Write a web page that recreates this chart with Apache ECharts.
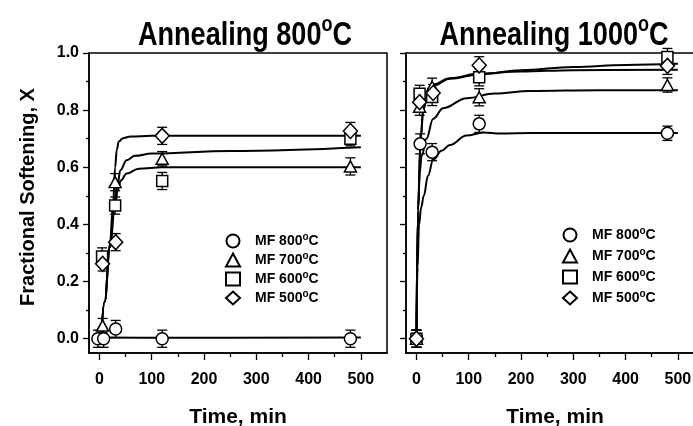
<!DOCTYPE html>
<html>
<head>
<meta charset="utf-8">
<script src="https://cdn.jsdelivr.net/npm/echarts@6/dist/echarts.min.js"></script>
<style>
  html, body { margin: 0; padding: 0; background: #fff; }
  #chart { width: 693px; height: 426px; }
</style>
</head>
<body>
<div id="chart"></div>
<script>
// tick values
const xMajor = [0, 100, 200, 300, 400, 500];
const xMinor = [50, 150, 250, 350, 450];
const yMajor = [0, 0.2, 0.4, 0.6, 0.8, 1.0];
const yMinor = [0.1, 0.3, 0.5, 0.7, 0.9];

const names = ["MF 800°C", "MF 700°C", "MF 600°C", "MF 500°C"];
const titles = ["Annealing 800°C", "Annealing 1000°C"];

// Annealing 800 C: measured points [time, X] and error
const l800 = [[-3, 0.0], [8, 0.0], [31, 0.034], [120, 0.0], [480, 0.0]];
const l800Err = [0.03, 0.03, 0.03, 0.03, 0.03];
const l700 = [[6, 0.046], [30, 0.548], [120, 0.63], [480, 0.603]];
const l700Err = [0.025, 0.03, 0.025, 0.03];
const l600 = [[5, 0.288], [30, 0.466], [120, 0.552], [480, 0.70]];
const l600Err = [0.03, 0.03, 0.03, 0.025];
const l500 = [[6, 0.262], [31, 0.338], [120, 0.71], [480, 0.727]];
const l500Err = [0.025, 0.03, 0.03, 0.03];

// Annealing 800 C: fitted curves
const l800Fit = [[0, 0.004], [120, 0.003], [500, 0.004]];
const l700Fit = [[3, 0], [10, 0.13], [20, 0.32], [28, 0.47], [34, 0.53], [40, 0.59], [52, 0.625], [68, 0.64], [100, 0.648], [250, 0.657], [500, 0.67]];
const l600Fit = [[3, 0], [10, 0.13], [20, 0.32], [30, 0.47], [35, 0.52], [41, 0.554], [52, 0.578], [75, 0.595], [120, 0.6], [500, 0.6]];
const l500Fit = [[3, 0], [10, 0.13], [20, 0.33], [26, 0.47], [30, 0.6], [33, 0.66], [37, 0.69], [45, 0.702], [60, 0.708], [100, 0.71], [500, 0.71]];

// Annealing 1000 C: measured points
const r800 = [[0, 0], [7, 0.682], [30, 0.653], [120, 0.752], [480, 0.719]];
const r800Err = [0.03, 0.035, 0.03, 0.03, 0.025];
const r700 = [[0, 0], [6, 0.812], [30, 0.882], [120, 0.845], [480, 0.888]];
const r700Err = [0.03, 0.03, 0.03, 0.03, 0.025];
const r600 = [[0, 0], [6, 0.857], [30, 0.846], [120, 0.915], [480, 0.986]];
const r600Err = [0.03, 0.03, 0.03, 0.03, 0.03];
const r500 = [[0, 0], [6, 0.828], [32, 0.86], [120, 0.957], [480, 0.955]];
const r500Err = [0.03, 0.03, 0.03, 0.03, 0.03];

// Annealing 1000 C: fitted curves
const r800Fit = [[0, 0], [2, 0.25], [5, 0.4], [9, 0.46], [14, 0.5], [22, 0.57], [32, 0.626], [48, 0.658], [64, 0.678], [96, 0.711], [128, 0.722], [160, 0.718], [220, 0.72], [500, 0.72]];
const r700Fit = [[0, 0], [3, 0.45], [6, 0.58], [10, 0.64], [19, 0.70], [32, 0.77], [51, 0.807], [96, 0.842], [150, 0.858], [217, 0.867], [350, 0.87], [500, 0.87]];
const r600Fit = [[0, 0], [3, 0.45], [8, 0.7], [13, 0.8], [20, 0.85], [32, 0.885], [64, 0.91], [121, 0.925], [200, 0.94], [300, 0.951], [400, 0.958], [500, 0.962]];
const r500Fit = [[0, 0], [3, 0.45], [8, 0.7], [13, 0.8], [20, 0.855], [32, 0.89], [64, 0.912], [121, 0.928], [200, 0.935], [300, 0.94], [500, 0.941]];

const symbols = [
  { symbol: "circle", size: 12 },
  { symbol: "triangle", size: [12, 11] },
  { symbol: "rect", size: 11 },
  { symbol: "diamond", size: [14, 15] },
];

const ARIAL = "'Liberation Sans', Arial, sans-serif";

const supText = (s) => s.replace("°", "{sup|o}");

function errorSeries(pts, errs, idx) {
  return {
    type: "custom",
    xAxisIndex: idx * 2,
    yAxisIndex: idx * 2,
    silent: true,
    z: 1,
    data: pts.map((p, i) => [p[0], p[1] - errs[i], p[1] + errs[i]]),
    encode: { x: 0, y: [1, 2] },
    renderItem: (params, api) => {
      const lo = api.coord([api.value(0), api.value(1)]);
      const hi = api.coord([api.value(0), api.value(2)]);
      const w = 5;
      const st = { stroke: "#000", lineWidth: 1.3 };
      return {
        type: "group",
        children: [
          { type: "line", shape: { x1: lo[0], y1: lo[1], x2: hi[0], y2: hi[1] }, style: st },
          { type: "line", shape: { x1: lo[0] - w, y1: lo[1], x2: lo[0] + w, y2: lo[1] }, style: st },
          { type: "line", shape: { x1: hi[0] - w, y1: hi[1], x2: hi[0] + w, y2: hi[1] }, style: st },
        ],
      };
    },
  };
}

function fitSeries(data, idx) {
  return {
    type: "line",
    xAxisIndex: idx * 2,
    yAxisIndex: idx * 2,
    data: data,
    smooth: 0.4,
    smoothMonotone: "x",
    showSymbol: false,
    silent: true,
    z: 2,
    lineStyle: { color: "#000", width: 2 },
  };
}

function pointSeries(name, data, k, idx) {
  return {
    name: name,
    type: "scatter",
    xAxisIndex: idx * 2,
    yAxisIndex: idx * 2,
    data: data,
    symbol: symbols[k].symbol,
    symbolSize: symbols[k].size,
    z: 3,
    itemStyle: { color: "#fff", borderColor: "#000", borderWidth: 1.5, opacity: 1 },
  };
}

function xAxes(idx) {
  return [
    {
      type: "value", gridIndex: idx, min: -20, max: 550, position: "bottom",
      axisLine: { show: true, onZero: false, lineStyle: { color: "#000", width: 1.5 } },
      axisTick: { show: true, length: 7, customValues: xMajor, lineStyle: { color: "#000", width: 1.3 } },
      axisLabel: { customValues: xMajor, margin: 19, color: "#000", fontSize: 16, fontWeight: "bold", fontFamily: ARIAL },
      splitLine: { show: false },
      name: "Time, min", nameLocation: "middle", nameGap: 54,
      nameTextStyle: { color: "#000", fontSize: 21, fontWeight: "bold", fontFamily: ARIAL },
    },
    {
      type: "value", gridIndex: idx, min: -20, max: 550, position: "bottom",
      axisLine: { show: false, onZero: false },
      axisTick: { show: true, length: 4, customValues: xMinor, lineStyle: { color: "#000", width: 1.3 } },
      axisLabel: { show: false },
      splitLine: { show: false },
    },
  ];
}

function yAxes(idx) {
  const main = {
    type: "value", gridIndex: idx, min: -0.05, max: 1.0, position: "left",
    axisLine: { show: true, onZero: false, lineStyle: { color: "#000", width: 1.5 } },
    axisTick: { show: true, length: 6, customValues: yMajor, lineStyle: { color: "#000", width: 1.3 } },
    axisLabel: {
      show: idx === 0, customValues: yMajor, margin: 10, color: "#000",
      fontSize: 16, fontWeight: "bold", fontFamily: ARIAL,
      formatter: (v) => v.toFixed(1),
    },
    splitLine: { show: false },
  };
  if (idx === 0) {
    main.name = "Fractional Softening, X";
    main.nameLocation = "middle";
    main.nameGap = 51;
    main.nameTextStyle = { color: "#000", fontSize: 20, fontWeight: "bold", fontFamily: ARIAL, padding: [0, 0, 0, 12] };
  }
  return [
    main,
    {
      type: "value", gridIndex: idx, min: -0.05, max: 1.0, position: "left",
      axisLine: { show: false, onZero: false },
      axisTick: { show: true, length: 3, customValues: yMinor, lineStyle: { color: "#000", width: 1.3 } },
      axisLabel: { show: false },
      splitLine: { show: false },
    },
  ];
}

function legendFor(left, top, gap) {
  return {
    orient: "vertical", left: left, top: top,
    itemWidth: 14, itemHeight: 13, itemGap: gap,
    selectedMode: false,
    data: names,
    formatter: supText,
    textStyle: {
      color: "#000", fontSize: 14, fontWeight: "bold", fontFamily: ARIAL, lineHeight: 18, padding: [0, 0, 0, 10],
      rich: { sup: { color: "#000", fontSize: 10, fontWeight: "bold", fontFamily: ARIAL, verticalAlign: "top", lineHeight: 10 } },
    },
  };
}

function titleText(text, x) {
  return {
    type: "text", x: x, y: 14, scaleX: 0.82,
    style: {
      text: supText(text), align: "center", verticalAlign: "top",
      fill: "#000", fontSize: 33, fontWeight: "bold", fontFamily: ARIAL, lineHeight: 44,
      rich: { sup: { fill: "#000", fontSize: 22, fontWeight: "bold", fontFamily: ARIAL, verticalAlign: "top", lineHeight: 22 } },
    },
  };
}

const leftPts = [l800, l700, l600, l500];
const leftErr = [l800Err, l700Err, l600Err, l500Err];
const leftFit = [l800Fit, l700Fit, l600Fit, l500Fit];
const rightPts = [r800, r700, r600, r500];
const rightErr = [r800Err, r700Err, r600Err, r500Err];
const rightFit = [r800Fit, r700Fit, r600Fit, r500Fit];

const series = [];
[[leftPts, leftErr, leftFit], [rightPts, rightErr, rightFit]].forEach(([pts, errs, fits], idx) => {
  pts.forEach((p, k) => series.push(errorSeries(p, errs[k], idx)));
  fits.forEach((f) => series.push(fitSeries(f, idx)));
  pts.forEach((p, k) => series.push(pointSeries(names[k], p, k, idx)));
});

const chart = echarts.init(document.getElementById("chart"), null, { renderer: "canvas" });
chart.setOption({
  animation: false,
  backgroundColor: "#fff",
  graphic: [titleText(titles[0], 245), titleText(titles[1], 554)],
  legend: [legendFor(220, 227, 1), legendFor(557, 221, 3)],
  grid: [
    { left: 89, top: 53, width: 298, height: 300, show: true, borderColor: "#000", borderWidth: 1.5, outerBoundsMode: "none", containLabel: false },
    { left: 406, top: 53, width: 298, height: 300, show: true, borderColor: "#000", borderWidth: 1.5, outerBoundsMode: "none", containLabel: false },
  ],
  xAxis: [...xAxes(0), ...xAxes(1)],
  yAxis: [...yAxes(0), ...yAxes(1)],
  series: series,
});
</script>
</body>
</html>
